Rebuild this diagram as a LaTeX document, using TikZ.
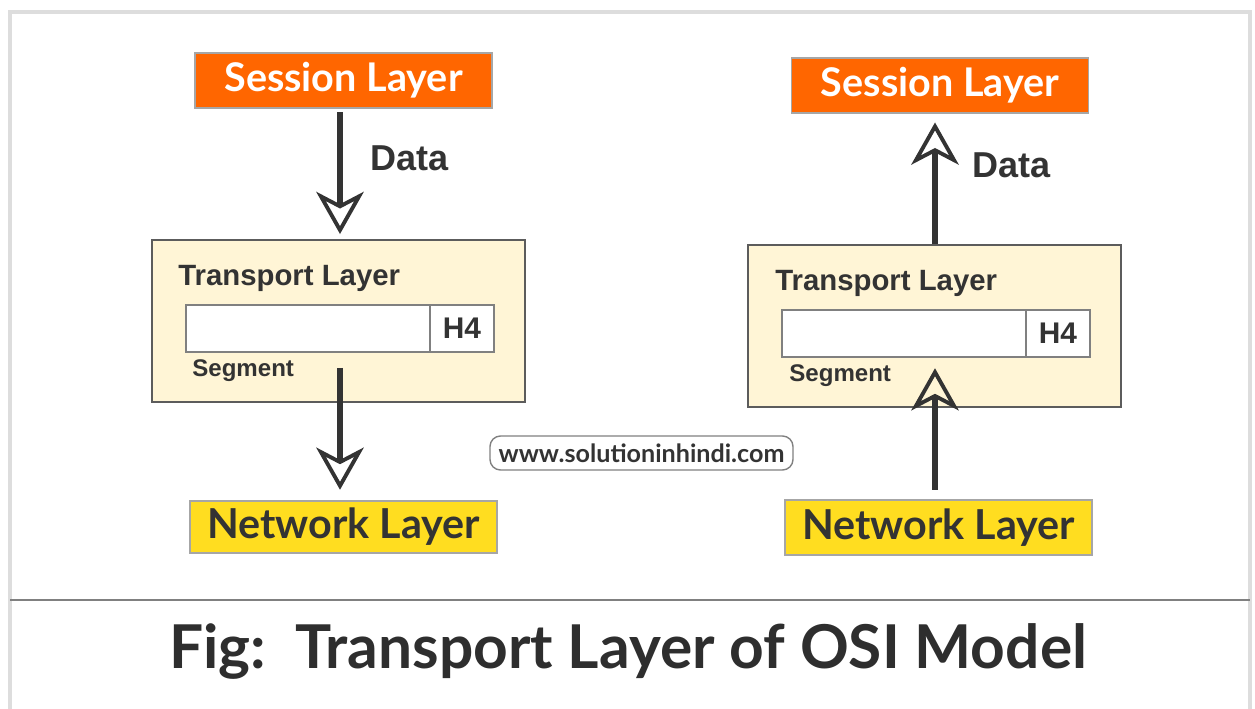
\documentclass[tikz,border=0pt]{standalone}
\usepackage{fontspec}
\setmainfont{Liberation Sans}
\newfontfamily\latofont{Lato}
\usetikzlibrary{arrows.meta,positioning}
\definecolor{sesorange}{RGB}{255,102,0}
\definecolor{netyellow}{RGB}{255,221,32}
\definecolor{tpcream}{RGB}{255,245,214}
\definecolor{inkgray}{RGB}{51,51,51}
\definecolor{rimgray}{RGB}{221,221,221}
\tikzstyle{flow} = [line width=3.2pt,color=inkgray,-{Stealth[open,line width=2.2pt,length=24pt,width=27pt,inset=7pt]}]
\tikzstyle{layerbox} = [draw=gray!70, line width=0.8pt, minimum width=297*0.02cm, minimum height=55*0.02cm, inner sep=0pt]
\tikzstyle{tpbox} = [draw=inkgray!80, fill=tpcream, line width=0.8pt, minimum width=373*0.02cm, minimum height=162*0.02cm]
\tikzstyle{segbar} = [draw=gray, fill=white, line width=0.8pt, minimum width=308*0.02cm, minimum height=47*0.02cm, inner sep=0pt]
\tikzstyle{hdrcell} = [draw=gray, fill=white, line width=0.8pt, minimum width=64*0.02cm, minimum height=47*0.02cm, inner sep=0pt, font=\fontsize{17}{20}\selectfont\bfseries, text=inkgray]
\tikzstyle{lbl} = [anchor=west, inner sep=0pt, text=inkgray]

\begin{document}
\begin{tikzpicture}[x=0.02cm, y=-0.02cm]
\useasboundingbox[fill=white] (0,0) rectangle (1255,709);
% frame and rule
\draw[rimgray, line width=2pt] (10,709) -- (10,12) -- (1250,12) -- (1250,709);
\draw[gray, line width=1.2pt] (10,600) -- (1250,600);

% sender side
\node[layerbox, fill=sesorange, text=white, font=\latofont\fontsize{22.5}{26}\selectfont\bfseries] (sesL) at (343.5,80.5) {Session Layer};
\node[tpbox] (tpL) at (338.5,321) {};
\node[lbl, font=\fontsize{16.7}{20}\selectfont\bfseries] (tpTxtL) at (178,278) {Transport Layer};
\node[segbar] (barL) at (340,328.5) {};
\node[hdrcell, anchor=east] (hdrL) at (barL.east) {H4};
\node[lbl, font=\fontsize{13.7}{16}\selectfont\bfseries] (segL) at (192,371) {Segment};
\node[layerbox, fill=netyellow, text=inkgray, minimum width=307*0.02cm, minimum height=52*0.02cm, font=\latofont\fontsize{23.5}{27}\selectfont\bfseries] (netL) at (343.5,527) {Network Layer};
\node[lbl, font=\fontsize{20.5}{24}\selectfont\bfseries] (dataL) at (370,158) {Data};
\coordinate (outL) at (340,368);

\draw[flow, shorten <=2pt, shorten >=3pt] (sesL.south -| outL) -- (tpL.north -| outL);
\draw[flow, shorten >=6pt] (outL) -- (netL.north -| outL);

% receiver side
\node[layerbox, fill=sesorange, text=white, font=\latofont\fontsize{22.5}{26}\selectfont\bfseries] (sesR) at (940,85.5) {Session Layer};
\node[tpbox] (tpR) at (934.5,326) {};
\node[lbl, font=\fontsize{16.7}{20}\selectfont\bfseries] (tpTxtR) at (775,283) {Transport Layer};
\node[segbar] (barR) at (936,333.5) {};
\node[hdrcell, anchor=east] (hdrR) at (barR.east) {H4};
\node[lbl, font=\fontsize{13.7}{16}\selectfont\bfseries] (segR) at (789,376) {Segment};
\node[layerbox, fill=netyellow, text=inkgray, minimum width=307*0.02cm, font=\latofont\fontsize{23.5}{27}\selectfont\bfseries] (netR) at (938.5,527.5) {Network Layer};
\node[lbl, font=\fontsize{20.5}{24}\selectfont\bfseries] (dataR) at (972,165) {Data};
\coordinate (inR) at (935,490);

\draw[flow, shorten >=5pt] (tpR.north -| inR) -- (sesR.south -| inR);
\draw[flow, shorten >=6pt] (inR) -- (barR.south -| inR);

% watermark and caption
\node[draw=gray, rounded corners=6pt, line width=0.8pt, minimum width=303*0.02cm, minimum height=34*0.02cm, inner sep=0pt, font=\latofont\fontsize{14.3}{17}\selectfont\bfseries, text=inkgray] (url) at (641.5,453) {www.solutioninhindi.com};
\node[font=\latofont\fontsize{34.4}{40}\selectfont\bfseries, text=inkgray!90!black] (title) at (628,652) {Fig:\ \ Transport Layer of OSI Model};
\end{tikzpicture}
\end{document}
